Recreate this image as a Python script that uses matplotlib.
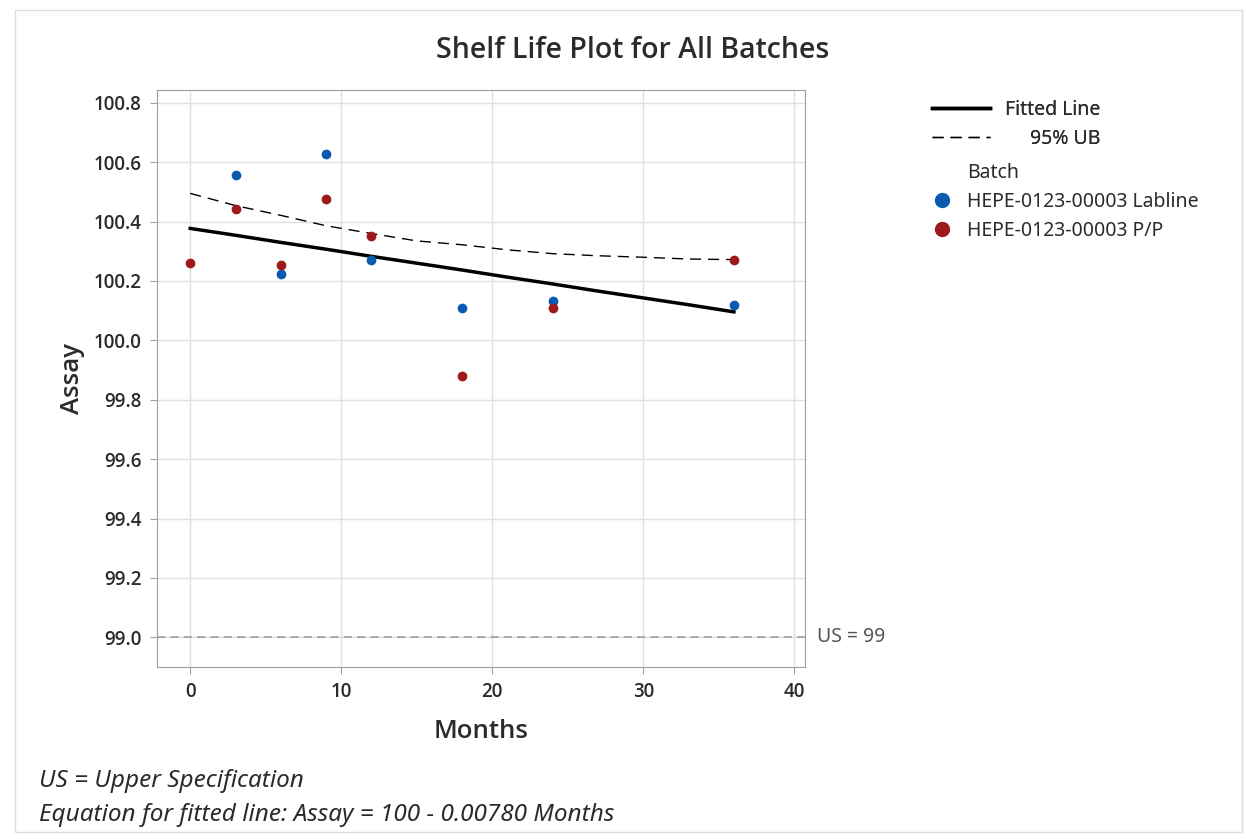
"""Shelf life plot for all batches: assay vs months with fitted line and 95% UB."""

import matplotlib

matplotlib.use("Agg")
import matplotlib.pyplot as plt
from matplotlib.lines import Line2D
from matplotlib.patches import Rectangle

plt.rcParams["font.family"] = ["Noto Sans", "DejaVu Sans"]
SEMI = ["Open Sans", "Noto Sans", "DejaVu Sans"]

TEXT = "#2B2B2B"
GRAY = "#A0A0A0"
BLUE = "#0A5BB0"
RED = "#9E1A1A"

# batch results
months_lab = [3, 6, 9, 12, 18, 24, 36]
assay_lab = [100.557, 100.222, 100.628, 100.272, 100.109, 100.134, 100.120]
months_pp = [0, 3, 6, 9, 12, 18, 24, 36]
assay_pp = [100.260, 100.443, 100.255, 100.477, 100.351, 99.880, 100.108, 100.272]

# fitted line and 95% upper bound
months_fit = [0, 3, 6, 9, 12, 15, 18, 21, 24, 27, 30, 33, 36]
assay_fit = [100.377, 100.354, 100.330, 100.307, 100.283, 100.260, 100.237,
             100.213, 100.190, 100.166, 100.143, 100.120, 100.096]
assay_ub = [100.495, 100.454, 100.421, 100.386, 100.360, 100.335, 100.322,
            100.305, 100.292, 100.285, 100.280, 100.274, 100.272]

upper_spec = 99.0
x_ticks = [0, 10, 20, 30, 40]
y_ticks = [99.0, 99.2, 99.4, 99.6, 99.8, 100.0, 100.2, 100.4, 100.6, 100.8]


def main():
    fig = plt.figure(figsize=(12.46, 8.39), dpi=100)
    fig.patches.append(Rectangle((0.012, 0.008), 0.985, 0.98, transform=fig.transFigure,
                                 fill=False, edgecolor="#DDDDDD", lw=1))
    ax = fig.add_axes([0.126, 0.205, 0.520, 0.688])

    ax.plot(months_fit, assay_fit, color="black", lw=2.5, zorder=3)
    ax.plot(months_fit, assay_ub, color="black", lw=1, ls=(0, (8, 5)), zorder=3)
    ax.scatter(months_lab, assay_lab, s=36, color=BLUE, zorder=4)
    ax.scatter(months_pp, assay_pp, s=36, color=RED, zorder=4)
    ax.axhline(upper_spec, color=GRAY, lw=1.2, ls=(0, (5, 3)), zorder=2)
    ax.text(41.5, upper_spec, "US = 99", color="#555555", fontsize=14, va="center")

    ax.set_xlim(-2.2, 40.7)
    ax.set_ylim(98.9, 100.844)
    ax.set_xticks(x_ticks)
    ax.set_yticks(y_ticks)
    ax.set_yticklabels([f"{v:.1f}" for v in y_ticks])
    ax.grid(True, color="#E0E0E0", lw=1)
    ax.set_axisbelow(True)
    for sp in ax.spines.values():
        sp.set_color(GRAY)
    ax.tick_params(colors=GRAY, labelcolor=TEXT, labelsize=13.5, length=5, pad=6)
    for lbl in ax.get_xticklabels() + ax.get_yticklabels():
        lbl.set_family(SEMI)
        lbl.set_fontweight("semibold")
    ax.set_xlabel("Months", fontsize=18.5, color=TEXT, family=SEMI, fontweight="semibold",
                  labelpad=12)
    ax.set_ylabel("Assay", fontsize=18.5, color=TEXT, family=SEMI, fontweight="semibold",
                  labelpad=6)

    fig.text(0.508, 1 - 50 / 839, "Shelf Life Plot for All Batches", ha="center", va="center",
             fontsize=20.5, color=TEXT, family=SEMI, fontweight="semibold")

    line_handles = [Line2D([], [], color="black", lw=2.5),
                    Line2D([], [], color="black", lw=1, ls=(0, (8, 5)))]
    leg1 = fig.legend(line_handles, ["Fitted Line", "     95% UB"], loc="upper left",
                      bbox_to_anchor=(932 / 1246, 1 - 100 / 839), frameon=False,
                      fontsize=14, handlelength=3.0, handletextpad=0.77,
                      labelspacing=0.45, borderpad=0, borderaxespad=0, labelcolor=TEXT)
    batch_handles = [Line2D([], [], ls="none"),
                     Line2D([], [], ls="none", marker="o", ms=10, color=BLUE),
                     Line2D([], [], ls="none", marker="o", ms=10, color=RED)]
    fig.legend(batch_handles, ["Batch", "HEPE-0123-00003 Labline", "HEPE-0123-00003 P/P"],
               loc="upper left", bbox_to_anchor=(932 / 1246, 1 - 163 / 839), frameon=False,
               fontsize=14, handlelength=1.03, handletextpad=0.77, labelspacing=0.45,
               borderpad=0, borderaxespad=0, labelcolor=TEXT)
    fig.add_artist(leg1)

    fig.text(0.031, 1 - 781 / 839, "US = Upper Specification", fontsize=17.5,
             style="italic", color=TEXT, va="center")
    fig.text(0.031, 1 - 815 / 839, "Equation for fitted line: Assay = 100 - 0.00780 Months",
             fontsize=17.5, style="italic", color=TEXT, va="center")

    fig.savefig("out.png", dpi=100)


if __name__ == "__main__":
    main()
